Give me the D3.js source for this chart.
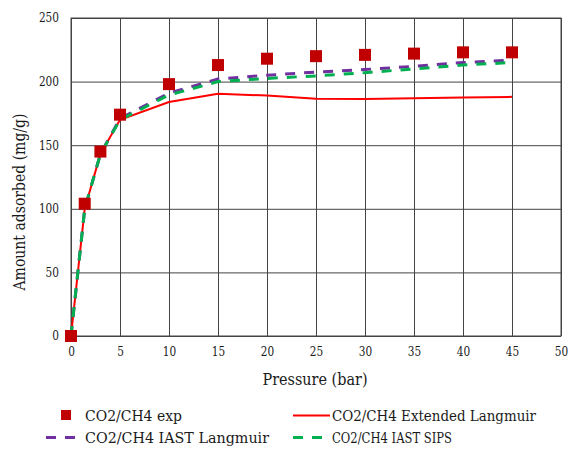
<!DOCTYPE html>
<html>
<head>
<meta charset="utf-8">
<script src="https://cdn.jsdelivr.net/npm/d3@7"></script>
<style>
  body { margin: 0; background: #fff; }
  svg text { font-family: "DejaVu Serif", serif; fill: #1a1a1a; }
</style>
</head>
<body>
<div id="chart"></div>
<script>
// values
var pressure = [0, 1.4, 3, 5, 10, 15, 20, 25, 30, 35, 40, 45];
var expVals = [0, 104, 145, 174, 198, 213, 218, 220, 221, 222, 223, 223];
var extLangmuir = [0, 100, 143, 170, 184, 190.5, 189, 186.5, 186.3, 187, 187.5, 188];
var iastLangmuir = [0, 100, 143, 171, 191, 202, 205, 207.5, 209.5, 212, 215, 217];
var iastSips = [0, 100, 143, 170, 189.5, 200, 202.5, 204.5, 207, 210, 213, 215];
var xTicks = [0, 5, 10, 15, 20, 25, 30, 35, 40, 45, 50];
var yTicks = [0, 50, 100, 150, 200, 250];
var legendNames = ["CO2/CH4 exp", "CO2/CH4 Extended Langmuir", "CO2/CH4 IAST Langmuir", "CO2/CH4 IAST SIPS"];

var margin = {top: 18, right: 8, bottom: 114, left: 71},
    width = 569 - margin.left - margin.right,
    height = 450 - margin.top - margin.bottom;

// only a wide serif is installed, so squeeze it to Times-like widths
function squeeze(sel, perChar) {
  sel.each(function() {
    var t = d3.select(this);
    var w = this.getComputedTextLength();
    var target = perChar(t.text());
    if (target < w) t.attr("textLength", target).attr("lengthAdjust", "spacingAndGlyphs");
  });
}

var svg = d3.select("#chart")
  .append("svg")
    .attr("width", 569)
    .attr("height", 450)
  .append("g")
    .attr("transform", "translate(" + margin.left + "," + margin.top + ")");

var x = d3.scaleLinear().domain([0, 50]).range([0, width]);
var y = d3.scaleLinear().domain([0, 250]).range([height, 0]);

// grid
svg.append("g")
  .attr("transform", "translate(0," + height + ")")
  .call(d3.axisBottom(x).tickValues(xTicks).tickSize(-height).tickFormat(""))
  .call(g => g.select(".domain").remove())
  .selectAll("line").attr("stroke", "#444").attr("stroke-width", 1);
svg.append("g")
  .call(d3.axisLeft(y).tickValues(yTicks).tickSize(-width).tickFormat(""))
  .call(g => g.select(".domain").remove())
  .selectAll("line").attr("stroke", "#444").attr("stroke-width", 1);

svg.append("rect")
  .attr("width", width).attr("height", height)
  .attr("fill", "none").attr("stroke", "#444").attr("stroke-width", 1);

// tick labels
var xAxis = svg.append("g")
  .attr("transform", "translate(0," + height + ")")
  .call(d3.axisBottom(x).tickValues(xTicks).tickSize(0).tickPadding(11));
xAxis.select(".domain").remove();
xAxis.selectAll("text").style("font-size", "12px")
  .call(squeeze, function(s) { return s.length * 6.7; });

var yAxis = svg.append("g")
  .call(d3.axisLeft(y).tickValues(yTicks).tickSize(0).tickPadding(12));
yAxis.select(".domain").remove();
yAxis.selectAll("text").style("font-size", "12px")
  .call(squeeze, function(s) { return s.length * 6.7; });

svg.append("text")
  .attr("x", 244).attr("y", height + 49)
  .attr("text-anchor", "middle")
  .style("font-size", "17px")
  .text("Pressure (bar)")
  .call(squeeze, function() { return 105; });

svg.append("text")
  .attr("transform", "translate(" + (-46) + "," + 184 + ") rotate(-90)")
  .attr("text-anchor", "middle")
  .style("font-size", "17px")
  .text("Amount adsorbed (mg/g)")
  .call(squeeze, function() { return 177; });

// lines
function mkLine(vals) {
  return d3.line()
    .x(function(d, i) { return x(pressure[i]); })
    .y(function(d) { return y(d); })(vals);
}

svg.append("path")
  .attr("d", mkLine(extLangmuir))
  .attr("fill", "none").attr("stroke", "#ff0000").attr("stroke-width", 2);
svg.append("path")
  .attr("d", mkLine(iastLangmuir))
  .attr("fill", "none").attr("stroke", "#7030a0").attr("stroke-width", 3)
  .attr("stroke-dasharray", "10,9");
svg.append("path")
  .attr("d", mkLine(iastSips))
  .attr("fill", "none").attr("stroke", "#00b050").attr("stroke-width", 3)
  .attr("stroke-dasharray", "10,9");

// experimental squares
var sq = 12;
svg.selectAll("rect.exp")
  .data(expVals)
  .enter()
  .append("rect")
    .attr("class", "exp")
    .attr("x", function(d, i) { return x(pressure[i]) - sq / 2; })
    .attr("y", function(d) { return y(d) - sq / 2; })
    .attr("width", sq).attr("height", sq)
    .attr("fill", "#c00000");

// legend
var leg = d3.select("svg").append("g");
var legPos = [[0, 0], [247, 0], [0, 22], [247, 22]];
var legWidths = [97, 204, 184, 120];
leg.selectAll("text")
  .data(legendNames)
  .enter()
  .append("text")
    .attr("x", function(d, i) { return 85 + legPos[i][0]; })
    .attr("y", function(d, i) { return 421 + legPos[i][1]; })
    .style("font-size", "15px")
    .text(function(d) { return d; })
    .call(squeeze, function(s) { return legWidths[legendNames.indexOf(s)]; });

leg.append("rect")
  .attr("x", 61).attr("y", 410).attr("width", 10).attr("height", 10)
  .attr("fill", "#c00000");
leg.append("line")
  .attr("x1", 293).attr("x2", 330).attr("y1", 415.5).attr("y2", 415.5)
  .attr("stroke", "#ff0000").attr("stroke-width", 2);
leg.append("line")
  .attr("x1", 46).attr("x2", 76).attr("y1", 437.5).attr("y2", 437.5)
  .attr("stroke", "#7030a0").attr("stroke-width", 3).attr("stroke-dasharray", "10,9");
leg.append("line")
  .attr("x1", 293).attr("x2", 323).attr("y1", 437.5).attr("y2", 437.5)
  .attr("stroke", "#00b050").attr("stroke-width", 3).attr("stroke-dasharray", "10,9");
</script>
</body>
</html>
